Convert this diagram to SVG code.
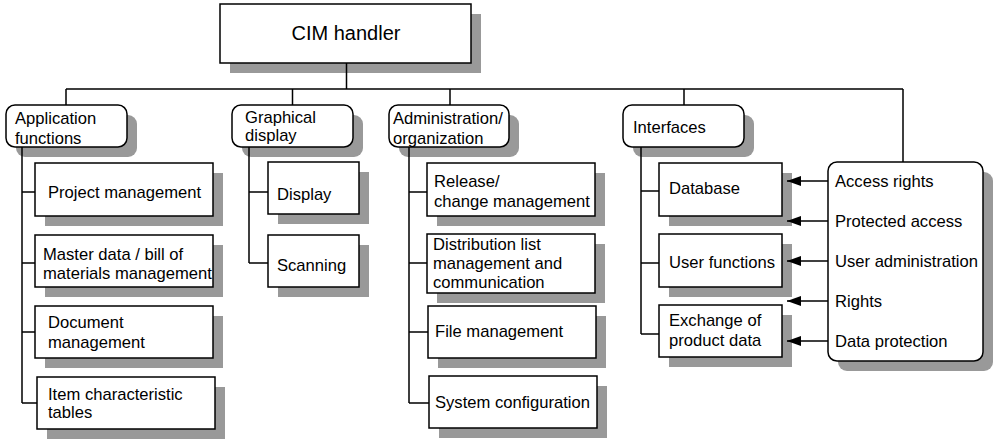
<svg xmlns="http://www.w3.org/2000/svg" width="993" height="439" viewBox="0 0 993 439">
<defs>
<style>
.sh{fill:#999999;stroke:none}
.bx{fill:#ffffff;stroke:#000000;stroke-width:1.5}
.t{font-family:"Liberation Sans",Arial,sans-serif;font-size:16.6px;fill:#000000}
.big{font-size:20px}
.ln{fill:none;stroke:#000000;stroke-width:1.5}
</style>
<marker id="ah" viewBox="0 0 14 10" refX="14" refY="5" markerWidth="14" markerHeight="10" markerUnits="userSpaceOnUse" orient="auto">
<path d="M0,0 L14,5 L0,10 Z" fill="#000000"/>
</marker>
</defs>
<rect width="993" height="439" fill="#ffffff"/>

<g id="cim">
<rect class="sh" x="230" y="14" width="251" height="59"/>
<rect class="bx" x="220" y="4" width="251" height="59"/>
<text class="t big" x="346" y="40" text-anchor="middle">CIM handler</text>
</g>

<g id="app">
<rect class="sh" x="16" y="115" width="121" height="42" rx="9"/>
<rect class="bx" x="6" y="105" width="121" height="42" rx="9"/>
<text class="t" x="15" y="124">Application</text>
<text class="t" x="15" y="144">functions</text>
</g>
<g id="graph">
<rect class="sh" x="242" y="115" width="121" height="42" rx="9"/>
<rect class="bx" x="232" y="105" width="121" height="42" rx="9"/>
<text class="t" x="245" y="123">Graphical</text>
<text class="t" x="245" y="141">display</text>
</g>
<g id="admin">
<rect class="sh" x="399" y="115" width="120" height="42" rx="9"/>
<rect class="bx" x="389" y="105" width="120" height="42" rx="9"/>
<text class="t" x="393" y="124">Administration/</text>
<text class="t" x="393" y="144">organization</text>
</g>
<g id="intf">
<rect class="sh" x="633" y="115" width="121" height="42" rx="9"/>
<rect class="bx" x="623" y="105" width="121" height="42" rx="9"/>
<text class="t" x="633" y="133">Interfaces</text>
</g>

<g id="proj">
<rect class="sh" x="45" y="173" width="178" height="53"/>
<rect class="bx" x="35" y="163" width="178" height="53"/>
<text class="t" x="48" y="198">Project management</text>
</g>
<g id="master">
<rect class="sh" x="45" y="245" width="178" height="52"/>
<rect class="bx" x="35" y="235" width="178" height="52"/>
<text class="t" x="43" y="260">Master data / bill of</text>
<text class="t" x="43" y="279">materials management</text>
</g>
<g id="doc">
<rect class="sh" x="45" y="316" width="178" height="52"/>
<rect class="bx" x="35" y="306" width="178" height="52"/>
<text class="t" x="48" y="328">Document</text>
<text class="t" x="48" y="348">management</text>
</g>
<g id="item">
<rect class="sh" x="47" y="387" width="178" height="52"/>
<rect class="bx" x="37" y="377" width="178" height="52"/>
<text class="t" x="48" y="400">Item characteristic</text>
<text class="t" x="48" y="418">tables</text>
</g>

<g id="display">
<rect class="sh" x="278" y="172" width="91" height="52"/>
<rect class="bx" x="268" y="162" width="91" height="52"/>
<text class="t" x="277" y="200">Display</text>
</g>
<g id="scan">
<rect class="sh" x="278" y="245" width="91" height="52"/>
<rect class="bx" x="268" y="235" width="91" height="52"/>
<text class="t" x="277" y="271">Scanning</text>
</g>

<g id="release">
<rect class="sh" x="437" y="173" width="168" height="53"/>
<rect class="bx" x="427" y="163" width="168" height="53"/>
<text class="t" x="434" y="187">Release/</text>
<text class="t" x="434" y="207">change management</text>
</g>
<g id="distrib">
<rect class="sh" x="437" y="244" width="168" height="59"/>
<rect class="bx" x="427" y="234" width="168" height="59"/>
<text class="t" x="433" y="250">Distribution list</text>
<text class="t" x="433" y="269">management and</text>
<text class="t" x="433" y="288">communication</text>
</g>
<g id="file">
<rect class="sh" x="438" y="316" width="168" height="52"/>
<rect class="bx" x="428" y="306" width="168" height="52"/>
<text class="t" x="435" y="337">File management</text>
</g>
<g id="sysconf">
<rect class="sh" x="439" y="386" width="168" height="52"/>
<rect class="bx" x="429" y="376" width="168" height="52"/>
<text class="t" x="435" y="408">System configuration</text>
</g>

<g id="database">
<rect class="sh" x="669" y="173" width="123" height="53"/>
<rect class="bx" x="659" y="163" width="123" height="53"/>
<text class="t" x="669" y="194">Database</text>
</g>
<g id="userfn">
<rect class="sh" x="669" y="244" width="123" height="53"/>
<rect class="bx" x="659" y="234" width="123" height="53"/>
<text class="t" x="669" y="268">User functions</text>
</g>
<g id="exchange">
<rect class="sh" x="669" y="315" width="123" height="52"/>
<rect class="bx" x="659" y="305" width="123" height="52"/>
<text class="t" x="669" y="326">Exchange of</text>
<text class="t" x="669" y="346">product data</text>
</g>

<g id="rights">
<rect class="sh" x="838" y="172" width="155" height="199" rx="9"/>
<rect class="bx" x="828" y="162" width="155" height="199" rx="9"/>
<text class="t" x="835" y="187">Access rights</text>
<text class="t" x="835" y="227">Protected access</text>
<text class="t" x="835" y="267">User administration</text>
<text class="t" x="835" y="307">Rights</text>
<text class="t" x="835" y="347">Data protection</text>
</g>

<g id="connectors">
<path class="ln" d="M346.5,63 V89 M66,89 H903 M66,89 V105 M292.5,89 V105 M450,89 V105 M684,89 V105 M903,89 V162"/>
<path class="ln" d="M22,147 V403 M22,192 H35 M22,263 H35 M22,332 H35 M22,403 H37"/>
<path class="ln" d="M249,147 V263 M249,192 H268 M249,263 H268"/>
<path class="ln" d="M409,147 V403 M409,192 H427 M409,263 H427 M409,332 H428 M409,403 H429"/>
<path class="ln" d="M641,147 V334 M641,191 H659 M641,263 H659 M641,334 H659"/>
<path class="ln" d="M828,181 H787" marker-end="url(#ah)"/>
<path class="ln" d="M828,221 H787" marker-end="url(#ah)"/>
<path class="ln" d="M828,261 H787" marker-end="url(#ah)"/>
<path class="ln" d="M828,301 H787" marker-end="url(#ah)"/>
<path class="ln" d="M828,341 H787" marker-end="url(#ah)"/>
</g>
</svg>
